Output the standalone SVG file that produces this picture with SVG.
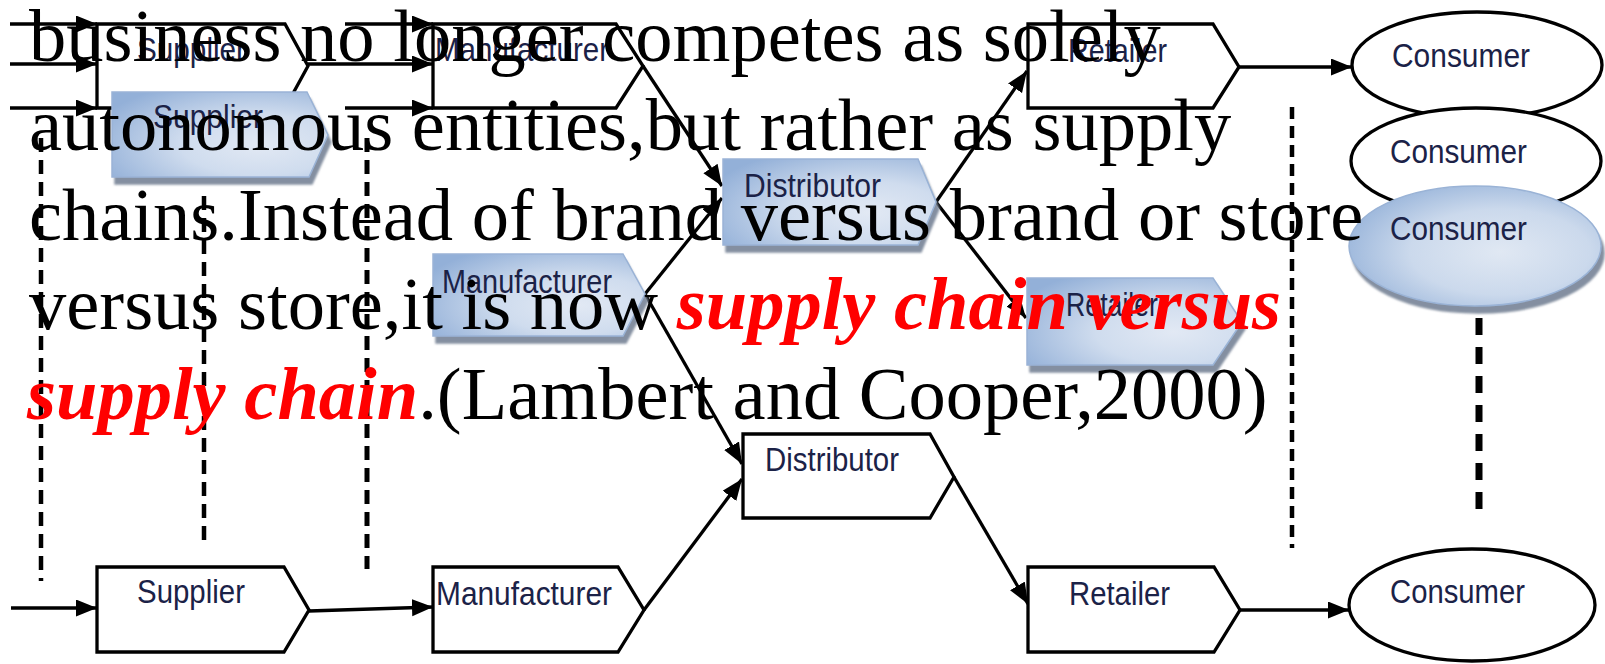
<svg xmlns="http://www.w3.org/2000/svg" width="1605" height="664" viewBox="0 0 1605 664">
<style>
.box{fill:#fff;stroke:#000;stroke-width:3.3;stroke-linejoin:miter}
.bbox{fill:url(#bg);stroke:#9ab3d6;stroke-width:1.5;filter:url(#sh)}
.ell{fill:#fff;stroke:#000;stroke-width:3.3}
.bell{fill:url(#bgE);stroke:#9ab3d6;stroke-width:1.5;filter:url(#sh)}
.lbl{font-family:"Liberation Sans",Arial,sans-serif;font-size:33px;fill:#1b2247}
.ln{fill:none;stroke:#000;stroke-width:3.3}
.arr{marker-end:url(#ah)}
.dash{fill:none;stroke:#000;stroke-width:4.5;stroke-dasharray:14 8}
.main{font-family:"Liberation Serif","Times New Roman",serif;font-size:74.5px;fill:#000}
.red{fill:#ff0000;font-weight:bold;font-style:italic}
</style>
<defs>
<marker id="ah" markerUnits="userSpaceOnUse" markerWidth="23" markerHeight="18" refX="21" refY="8.5" orient="auto">
<path d="M0,0 L21,8.5 L0,17 z" fill="#000"/>
</marker>
<radialGradient id="bg" cx="0.68" cy="0.62" r="0.8">
<stop offset="0" stop-color="#e2e9f4"/>
<stop offset="0.45" stop-color="#cfdcee"/>
<stop offset="1" stop-color="#93b0d8"/>
</radialGradient>
<radialGradient id="bgE" cx="0.6" cy="0.55" r="0.65">
<stop offset="0" stop-color="#e0e8f3"/>
<stop offset="0.55" stop-color="#cbd9ec"/>
<stop offset="1" stop-color="#98b4da"/>
</radialGradient>
<filter id="sh" x="-10%" y="-10%" width="125%" height="140%">
<feDropShadow dx="3" dy="7" stdDeviation="1.3" flood-color="#7e899b" flood-opacity="0.95"/>
</filter>
</defs>

<g id="dashed-lines">
<line class="dash" x1="41" y1="138" x2="41" y2="581"/>
<line class="dash" x1="204" y1="196" x2="204" y2="548"/>
<line class="dash" x1="367" y1="138" x2="367" y2="569" style="stroke-width:5"/>
<line class="dash" x1="1292" y1="107" x2="1292" y2="548" style="stroke-dasharray:12 7"/>
<line class="dash" x1="1479" y1="318" x2="1479" y2="510" style="stroke-width:7;stroke-dasharray:17 12"/>
</g>

<g id="connectors">
<line class="ln arr" x1="10" y1="24" x2="97" y2="24"/>
<line class="ln arr" x1="10" y1="64" x2="97" y2="64"/>
<line class="ln arr" x1="10" y1="108" x2="97" y2="108"/>
<line class="ln arr" x1="345" y1="24" x2="433" y2="24"/>
<line class="ln arr" x1="308" y1="64" x2="433" y2="64"/>
<line class="ln arr" x1="345" y1="108" x2="433" y2="108"/>
<line class="ln arr" x1="643" y1="66" x2="722" y2="186"/>
<line class="ln arr" x1="645" y1="294" x2="722" y2="198"/>
<line class="ln arr" x1="645" y1="294" x2="742" y2="464"/>
<line class="ln arr" x1="644" y1="610" x2="742" y2="479"/>
<line class="ln arr" x1="936" y1="202" x2="1027" y2="71"/>
<line class="ln arr" x1="936" y1="202" x2="1026" y2="318"/>
<line class="ln arr" x1="954" y1="477" x2="1028" y2="604"/>
<line class="ln arr" x1="1239" y1="67" x2="1352" y2="67"/>
<line class="ln arr" x1="11" y1="608" x2="97" y2="608"/>
<line class="ln arr" x1="309" y1="611" x2="433" y2="607"/>
<line class="ln arr" x1="1240" y1="610" x2="1349" y2="610"/>
</g>

<g id="supplier-top">
<polygon class="box" points="97,24 285,24 308,66 285,108 97,108"/>
<text class="lbl" x="137" y="61" textLength="109" lengthAdjust="spacingAndGlyphs">Supplier</text>
</g>
<g id="supplier-blue">
<polygon class="bbox" points="112,92 307,92 328,135 309,177 112,177"/>
<text class="lbl" x="153" y="128" textLength="110" lengthAdjust="spacingAndGlyphs">Supplier</text>
</g>
<g id="supplier-bottom">
<polygon class="box" points="97,567 284,567 309,610 284,652 97,652"/>
<text class="lbl" x="137" y="603" textLength="108" lengthAdjust="spacingAndGlyphs">Supplier</text>
</g>

<g id="manufacturer-top">
<polygon class="box" points="433,24 616,24 643,66 616,108 433,108"/>
<text class="lbl" x="435" y="61" textLength="174" lengthAdjust="spacingAndGlyphs">Manufacturer</text>
</g>
<g id="manufacturer-blue">
<polygon class="bbox" points="433,254 623,254 645,294 623,336 433,336"/>
<text class="lbl" x="442" y="293" textLength="170" lengthAdjust="spacingAndGlyphs">Manufacturer</text>
</g>
<g id="manufacturer-bottom">
<polygon class="box" points="433,567 618,567 644,610 618,652 433,652"/>
<text class="lbl" x="436" y="605" textLength="176" lengthAdjust="spacingAndGlyphs">Manufacturer</text>
</g>

<g id="distributor-blue">
<polygon class="bbox" points="723,159 918,159 936,202 918,245 723,245"/>
<text class="lbl" x="744" y="197" textLength="137" lengthAdjust="spacingAndGlyphs">Distributor</text>
</g>
<g id="distributor-bottom">
<polygon class="box" points="743,434 930,434 954,477 930,518 743,518"/>
<text class="lbl" x="765" y="471" textLength="134" lengthAdjust="spacingAndGlyphs">Distributor</text>
</g>

<g id="retailer-top">
<polygon class="box" points="1028,24 1213,24 1239,67 1213,108 1028,108"/>
<text class="lbl" x="1068" y="62" textLength="99" lengthAdjust="spacingAndGlyphs">Retailer</text>
</g>
<g id="retailer-blue">
<polygon class="bbox" points="1027,278 1213,278 1242,322 1213,365 1027,365"/>
<text class="lbl" x="1066" y="316" textLength="92" lengthAdjust="spacingAndGlyphs">Retailer</text>
</g>
<g id="retailer-bottom">
<polygon class="box" points="1028,567 1214,567 1240,610 1214,652 1028,652"/>
<text class="lbl" x="1069" y="605" textLength="101" lengthAdjust="spacingAndGlyphs">Retailer</text>
</g>

<g id="consumer-1">
<ellipse class="ell" cx="1477" cy="65" rx="125" ry="53"/>
<text class="lbl" x="1392" y="67" textLength="138" lengthAdjust="spacingAndGlyphs">Consumer</text>
</g>
<g id="consumer-2">
<ellipse class="ell" cx="1476" cy="161" rx="125" ry="53"/>
<text class="lbl" x="1390" y="163" textLength="137" lengthAdjust="spacingAndGlyphs">Consumer</text>
</g>
<g id="consumer-blue">
<ellipse class="bell" cx="1475" cy="246" rx="126" ry="60"/>
<text class="lbl" x="1390" y="240" textLength="137" lengthAdjust="spacingAndGlyphs">Consumer</text>
</g>
<g id="consumer-bottom">
<ellipse class="ell" cx="1472" cy="605" rx="123" ry="56"/>
<text class="lbl" x="1390" y="603" textLength="135" lengthAdjust="spacingAndGlyphs">Consumer</text>
</g>

<g id="quote">
<text class="main" x="29" y="61">business no longer competes as solely</text>
<text class="main" x="29" y="150">autonomous entities,but rather as supply</text>
<text class="main" x="29" y="239.5">chains.Instead of brand versus brand or store</text>
<text class="main" x="29" y="329">versus store,it is now <tspan class="red">supply chain versus</tspan></text>
<text class="main" x="27" y="418.5"><tspan class="red">supply chain</tspan>.(Lambert and Cooper,2000)</text>
</g>
</svg>
